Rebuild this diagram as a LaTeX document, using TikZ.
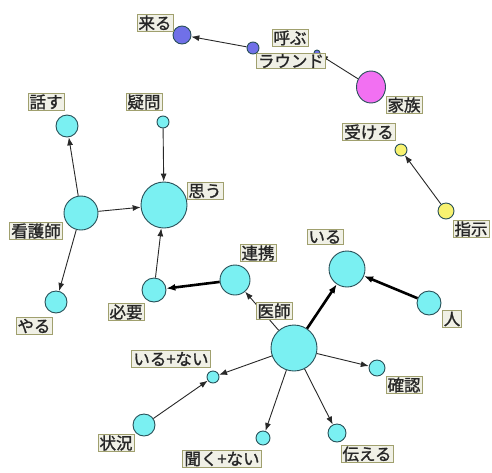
\documentclass[tikz,border=0pt]{standalone}
\usepackage{fontspec}
\setmainfont{Noto Sans CJK JP}
\newfontfamily\tagfont{Noto Sans CJK JP}[FakeBold=1.2]
\usetikzlibrary{arrows.meta,shapes.geometric}
\definecolor{cyanfill}{RGB}{122,240,242}
\definecolor{purplefill}{RGB}{112,112,232}
\definecolor{magentafill}{RGB}{242,112,242}
\definecolor{yellowfill}{RGB}{248,242,112}
\definecolor{ringcol}{RGB}{40,80,88}
\definecolor{tagfill}{RGB}{240,240,230}
\definecolor{tagline}{RGB}{160,160,110}
\definecolor{edgecol}{RGB}{40,40,40}
\tikzset{
  word/.style={circle,draw=ringcol,line width=0.9pt,inner sep=0pt,minimum size=#1},
  wcyan/.style={word=#1,fill=cyanfill},
  wpurple/.style={word=#1,fill=purplefill},
  wyellow/.style={word=#1,fill=yellowfill},
  tag/.style={draw=tagline,fill=tagfill,line width=1pt,inner xsep=1.5pt,inner ysep=1pt,
              font=\fontsize{16.5}{17}\tagfont,text=black!85},
  link/.style={draw=edgecol,line width=0.9pt,-{Latex[length=8pt,width=6pt]}},
  strong/.style={draw=black,line width=2.6pt,-{Latex[length=9pt,width=7pt]}},
}
\begin{document}
\begin{tikzpicture}[x=1pt,y=-1pt]
\useasboundingbox[fill=white] (0,0) rectangle (492,472);

% co-occurrence words
\node[wpurple=18pt] (kuru) at (182,35) {};
\node[wpurple=12pt] (yobu) at (253,48) {};
\node[wpurple=6pt] (round) at (317,53) {};
\node[ellipse,draw=ringcol,line width=0.9pt,fill=magentafill,inner sep=0pt,
      minimum width=29pt,minimum height=32pt] (kazoku) at (371,87) {};
\node[wyellow=12pt] (ukeru) at (401,150) {};
\node[wyellow=16pt] (shiji) at (446,211) {};
\node[wcyan=22pt] (hanasu) at (67,126) {};
\node[wcyan=12pt] (gimon) at (163,122) {};
\node[wcyan=46pt] (omou) at (164,205) {};
\node[wcyan=34pt] (kangoshi) at (81,213) {};
\node[wcyan=22pt] (yaru) at (56,302) {};
\node[wcyan=24pt] (hitsuyou) at (154,290) {};
\node[wcyan=30pt] (renkei) at (235,280) {};
\node[wcyan=12pt] (irunai) at (213,377) {};
\node[wcyan=22pt] (joukyou) at (144,425) {};
\node[wcyan=36pt] (iru) at (347,269) {};
\node[wcyan=24pt] (hito) at (429,303) {};
\node[wcyan=46pt] (ishi) at (294,348) {};
\node[wcyan=16pt] (kakunin) at (377,368) {};
\node[wcyan=18pt] (tsutaeru) at (337,433) {};
\node[wcyan=14pt] (kikunai) at (263,438) {};

% directed links
\draw[link] (yobu) -- (kuru);
\draw[link] (kazoku) -- (round);
\draw[link] (shiji) -- (ukeru);
\draw[link] (kangoshi) -- (hanasu);
\draw[link] (gimon) -- (omou);
\draw[link] (kangoshi) -- (omou);
\draw[link] (kangoshi) -- (yaru);
\draw[link] (hitsuyou) -- (omou);
\draw[strong] (renkei) -- (hitsuyou);
\draw[link] (ishi) -- (renkei);
\draw[strong] (ishi) -- (iru);
\draw[strong] (hito) -- (iru);
\draw[link] (ishi) -- (kakunin);
\draw[link] (ishi) -- (tsutaeru);
\draw[link] (ishi) -- (kikunai);
\draw[link] (ishi) -- (irunai);
\draw[link] (joukyou) -- (irunai);

% word labels
\node[tag] (tkuru) at (155,23) {来る};
\node[tag] (tyobu) at (290,38) {呼ぶ};
\node[tag] (tround) at (291,61) {ラウンド};
\node[tag] (tkazoku) at (404,105) {家族};
\node[tag] (tukeru) at (369,132) {受ける};
\node[tag] (tshiji) at (471,229) {指示};
\node[tag] (thanasu) at (46,102) {話す};
\node[tag] (tgimon) at (144,102) {疑問};
\node[tag] (tomou) at (205,191) {思う};
\node[tag] (tkangoshi) at (36,231) {看護師};
\node[tag] (tyaru) at (34,326) {やる};
\node[tag] (thitsuyou) at (126,312) {必要};
\node[tag] (trenkei) at (258,253) {連携};
\node[tag] (tishi) at (274,311) {医師};
\node[tag] (tiru) at (325,237) {いる};
\node[tag] (thito) at (452,319) {人};
\node[tag] (tkakunin) at (404,385) {確認};
\node[tag] (ttsutaeru) at (367,454) {伝える};
\node[tag] (tkikunai) at (222,459) {聞く+ない};
\node[tag] (tirunai) at (171,359) {いる+ない};
\node[tag] (tjoukyou) at (116,443) {状況};
\end{tikzpicture}
\end{document}
